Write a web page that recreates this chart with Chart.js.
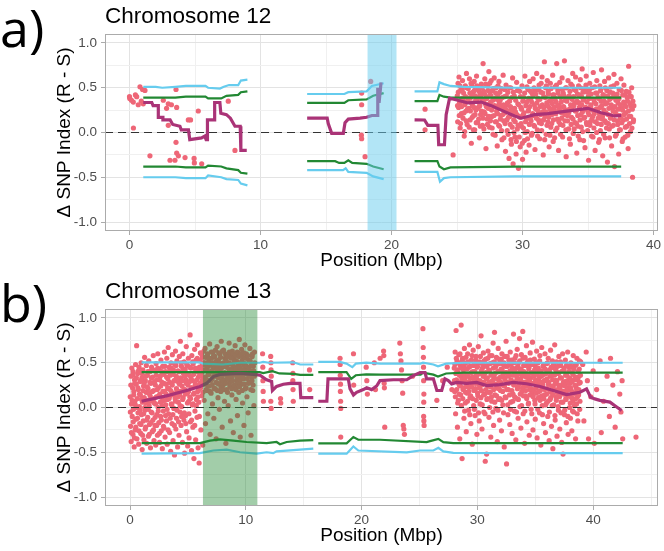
<!DOCTYPE html>
<html>
<head>
<meta charset="utf-8">
<script src="https://cdn.jsdelivr.net/npm/chart.js@4.4.1/dist/chart.umd.min.js"></script>
<style>
  body { margin: 0; background: #fff; width: 664px; height: 551px; position: relative; overflow: hidden; }
  canvas { position: absolute; left: 0; }
  #chr12 { top: 0; }
  #chr13 { top: 275px; }
</style>
</head>
<body>
<canvas id="chr12" width="664" height="276"></canvas>
<canvas id="chr13" width="664" height="276"></canvas>
<script>
/* =========================
   Delta SNP index, chromosomes 12 and 13
========================= */

// -------------------------
// Shared axis setup
// -------------------------
const Y_TICKS = [-1, -0.75, -0.5, -0.25, 0, 0.25, 0.5, 0.75, 1];
const X_TICKS_12 = [0, 5, 10, 15, 20, 25, 30, 35, 40];
const X_TICKS_13 = [0, 5, 10, 15, 20, 25, 30, 35, 40, 45];
const Y_RANGE = [-1.1, 1.1];

// -------------------------
// Chromosome 12 (panel a)
// -------------------------
const chr12Range = [-1.87, 40.34];
const chr12Region = [18.17, 20.38];

// SNPs outside the dense block, plus the spread of the block
const chr12Points = [
  [0.0,0.4],[0.02,0.38],[0.15,0.36],[0.29,0.34],[0.3,0.05],[0.45,0.42],[0.55,0.4],[0.67,0.31],[0.8,0.51],[0.9,0.35],
  [1.0,0.48],[1.05,0.32],[1.18,0.47],[1.56,-0.26],[2.58,0.36],[2.83,0.27],[2.96,0.32],[2.96,0.08],[3.09,-0.31],[3.2,0.31],
  [3.47,-0.31],[3.55,0.48],[3.55,-0.11],[3.6,0.28],[3.6,-0.23],[3.73,-0.26],[4.24,-0.28],[4.49,0.14],[4.66,0.14],[4.93,-0.29],
  [4.95,-0.34],[5.25,0.24],[5.51,-0.35],[7.54,0.35],[8.05,-0.2],
  [17.72,0.44],[17.72,0.31],[17.7,-0.03],[17.72,-0.07],[17.98,-0.27],[18.41,0.57],
  [22.56,0.26],[22.56,0.03],[24.7,-0.25],
  [25.02,0.41],[25.05,0.12],[25.08,0.55],[25.12,0.28],[25.15,0.62],[25.19,0.33],[25.24,0.05],[25.28,0.47],[25.33,0.21],[25.38,0.38],
  [25.42,0.58],[25.46,0.16],[25.5,0.44],[25.55,-0.04],[25.6,0.31],[25.63,0.52],[25.68,0.24],[25.72,0.66],[25.77,0.09],[25.82,0.36],
  [25.86,0.49],[25.9,0.27],[25.95,0.6],[26.0,0.14],[26.04,0.39],[26.09,-0.12],[26.13,0.53],[26.18,0.3],[26.22,0.45],[26.27,0.19],
  [26.31,0.57],[26.35,0.03],[26.4,0.41],[26.44,0.25],[26.49,0.63],[26.53,0.35],[26.58,0.11],[26.62,0.48],[26.67,0.29],[26.71,-0.06],
  [26.76,0.43],[26.8,0.2],[26.85,0.54],[26.9,0.37],[26.94,0.08],[26.99,0.77],[27.03,0.46],[27.07,0.23],[27.12,0.6],[27.16,0.32],
  [27.21,-0.18],[27.25,0.4],[27.3,0.15],[27.34,0.52],[27.39,0.27],[27.43,0.68],[27.48,0.06],[27.52,0.44],[27.57,0.34],[27.61,0.58],
  [27.66,0.18],[27.7,0.47],[27.75,-0.02],[27.8,0.29],[27.84,0.61],[27.89,0.38],[27.93,0.12],[27.98,0.5],[28.02,0.24],[28.07,-0.15],
  [28.11,0.42],[28.16,0.3],[28.2,0.57],[28.25,0.07],[28.29,0.36],[28.34,0.19],[28.38,0.49],[28.43,-0.08],[28.47,0.27],[28.52,0.64],
  [28.56,0.13],[28.61,0.4],[28.65,0.22],[28.7,-0.21],[28.74,0.53],[28.79,0.31],[28.83,0.02],[28.88,0.45],[28.92,0.17],[28.97,-0.29],
  [29.01,0.35],[29.06,0.09],[29.1,0.5],[29.15,-0.13],[29.19,0.26],[29.24,0.61],[29.28,-0.35],[29.33,0.14],[29.37,0.41],[29.42,-0.05],
  [29.46,0.23],[29.51,-0.24],[29.55,0.56],[29.6,0.04],[29.64,0.32],[29.69,-0.4],[29.73,0.18],[29.78,0.46],[29.82,-0.16],[29.87,0.28],
  [29.91,0.07],[29.96,0.52],[30.0,-0.3],[30.05,0.2],[30.09,0.39],[30.14,-0.09],[30.18,0.63],[30.23,0.12],[30.27,-0.22],[30.32,0.34],
  [30.36,0.01],[30.41,0.48],[30.45,0.25],[30.5,-0.14],[30.54,0.57],[30.59,0.16],[30.63,0.37],[30.68,-0.03],[30.72,0.44],[30.77,0.21],
  [30.81,0.6],[30.86,0.08],[30.9,0.31],[30.95,-0.19],[30.99,0.47],[31.04,0.26],[31.08,0.66],[31.13,0.03],[31.17,0.38],[31.22,0.14],
  [31.26,0.53],[31.31,-0.07],[31.35,0.29],[31.4,0.45],[31.44,0.1],[31.49,0.62],[31.53,0.23],[31.58,-0.25],[31.62,0.4],[31.67,0.79],
  [31.71,0.18],[31.76,0.5],[31.8,-0.02],[31.85,0.33],[31.89,0.58],[31.94,0.12],[31.98,0.43],[32.03,-0.16],[32.07,0.27],[32.12,0.55],
  [32.16,0.06],[32.21,0.36],[32.25,0.2],[32.3,0.64],[32.34,-0.1],[32.39,0.42],[32.43,0.25],[32.48,0.51],[32.52,0.02],[32.57,0.34],
  [32.61,0.77],[32.66,0.15],[32.7,0.47],[32.75,-0.2],[32.79,0.3],[32.84,0.56],[32.88,0.09],[32.93,0.39],[32.97,0.22],[33.02,0.61],
  [33.06,-0.05],[33.11,0.44],[33.15,0.28],[33.2,0.8],[33.24,0.13],[33.29,0.5],[33.33,-0.27],[33.38,0.35],[33.42,0.19],[33.47,0.58],
  [33.51,0.04],[33.56,0.41],[33.6,0.26],[33.65,-0.13],[33.69,0.54],[33.74,0.17],[33.78,0.37],[33.83,0.66],[33.87,-0.01],[33.92,0.3],
  [33.96,0.48],[34.01,0.11],[34.05,0.62],[34.1,0.24],[34.14,-0.23],[34.19,0.43],[34.23,0.07],[34.28,0.52],[34.32,0.33],[34.37,-0.08],
  [34.41,0.59],[34.46,0.2],[34.5,0.4],[34.55,0.71],[34.59,0.01],[34.64,0.36],[34.68,0.16],[34.73,0.49],[34.77,-0.17],[34.82,0.28],
  [34.86,0.63],[34.91,0.09],[34.95,0.45],[35.0,0.23],[35.04,-0.31],[35.09,0.38],[35.13,0.55],[35.18,0.12],[35.22,0.31],[35.27,-0.04],
  [35.31,0.5],[35.36,0.18],[35.4,0.67],[35.45,0.05],[35.49,0.34],[35.54,-0.2],[35.58,0.44],[35.63,0.26],[35.67,0.58],[35.72,0.1],
  [35.76,0.39],[35.81,-0.11],[35.85,0.21],[35.9,0.52],[35.94,0.02],[35.99,0.35],[36.03,0.7],[36.08,0.15],[36.12,-0.26],[36.17,0.42],
  [36.21,0.25],[36.26,0.57],[36.3,-0.06],[36.35,0.32],[36.39,0.11],[36.44,0.47],[36.48,-0.33],[36.53,0.2],[36.57,0.61],[36.62,0.04],
  [36.66,0.37],[36.71,0.16],[36.75,0.51],[36.8,-0.15],[36.84,0.28],[36.89,0.44],[36.93,0.08],[36.98,0.65],[37.02,-0.38],[37.07,0.23],
  [37.11,0.4],[37.16,-0.02],[37.2,0.55],[37.25,0.13],[37.29,0.33],[37.34,-0.24],[37.38,0.48],[37.43,0.19],[37.47,0.03],[37.52,0.6],
  [37.56,0.27],[37.61,-0.1],[37.65,0.42],[37.7,0.14],[37.74,0.53],[37.79,0.31],[37.83,-0.05],[37.88,0.22],[37.92,0.46],[37.97,0.07],
  [38.01,0.35],[38.06,-0.18],[38.1,0.74],[38.15,0.18],[38.19,0.41],[38.24,0.01],[38.28,0.29],[38.33,0.5],[38.4,-0.5],[38.45,0.12]
];

// the dense core of the 25-38 Mbp block
const chr12CorePoints = [
  [25.04,0.3],[25.1,0.45],[25.17,0.19],[25.22,0.52],[25.27,0.1],[25.35,0.29],[25.4,0.48],[25.48,0.35],[25.53,0.22],[25.58,0.01],
  [25.65,0.4],[25.7,0.13],[25.75,0.5],[25.8,0.26],[25.88,0.38],[25.93,0.06],[25.98,0.44],[26.02,0.24],[26.07,0.55],[26.11,0.33],
  [26.16,0.17],[26.2,0.41],[26.25,0.03],[26.29,0.28],[26.33,0.47],[26.38,0.2],[26.42,0.36],[26.47,0.11],[26.51,0.52],[26.56,0.27],
  [26.6,0.39],[26.65,0.15],[26.69,0.46],[26.74,0.3],[26.78,0.07],[26.83,0.42],[26.87,0.24],[26.92,0.5],[26.97,0.16],[27.01,0.35],
  [27.05,0.04],[27.1,0.43],[27.14,0.21],[27.19,0.54],[27.23,0.29],[27.28,0.38],[27.32,0.09],[27.37,0.47],[27.41,0.18],[27.46,0.32],
  [27.5,0.55],[27.55,0.13],[27.59,0.41],[27.64,0.25],[27.68,0.05],[27.73,0.36],[27.77,0.49],[27.82,0.19],[27.86,0.3],[27.91,-0.03],
  [27.95,0.44],[28.0,0.12],[28.04,0.37],[28.09,0.21],[28.13,0.52],[28.18,0.08],[28.22,0.33],[28.27,0.45],[28.31,0.15],[28.36,0.28],
  [28.4,0.02],[28.45,0.39],[28.49,0.2],[28.54,0.31],[28.58,-0.06],[28.63,0.48],[28.67,0.1],[28.72,0.26],[28.76,0.41],[28.81,0.14],
  [28.85,0.33],[28.9,-0.02],[28.94,0.24],[28.99,0.5],[29.03,0.18],[29.08,0.29],[29.12,-0.08],[29.17,0.39],[29.21,0.06],[29.26,0.22],
  [29.3,0.45],[29.35,0.0],[29.39,0.27],[29.44,0.12],[29.48,0.36],[29.53,-0.1],[29.57,0.2],[29.62,0.47],[29.66,0.08],[29.71,0.31],
  [29.75,-0.05],[29.8,0.17],[29.84,0.4],[29.89,0.1],[29.93,0.26],[29.98,-0.12],[30.02,0.35],[30.07,0.05],[30.11,0.22],[30.16,0.44],
  [30.2,0.0],[30.25,0.3],[30.29,0.15],[30.34,0.51],[30.38,-0.07],[30.43,0.24],[30.47,0.38],[30.52,0.09],[30.56,0.29],[30.61,0.46],
  [30.65,0.13],[30.7,0.34],[30.74,-0.01],[30.79,0.41],[30.83,0.19],[30.88,0.5],[30.92,0.07],[30.97,0.27],[31.01,0.43],[31.06,0.16],
  [31.1,0.33],[31.15,-0.04],[31.19,0.24],[31.24,0.48],[31.28,0.11],[31.33,0.37],[31.37,0.2],[31.42,0.55],[31.46,0.02],[31.51,0.31],
  [31.55,0.44],[31.6,0.14],[31.64,0.28],[31.69,-0.08],[31.73,0.39],[31.78,0.23],[31.82,0.52],[31.87,0.08],[31.91,0.3],[31.96,0.46],
  [32.0,0.17],[32.05,0.35],[32.09,-0.03],[32.14,0.25],[32.18,0.49],[32.23,0.1],[32.27,0.32],[32.32,0.42],[32.36,0.14],[32.41,0.28],
  [32.45,-0.06],[32.5,0.38],[32.54,0.21],[32.59,0.53],[32.63,0.05],[32.68,0.3],[32.72,0.44],[32.77,0.12],[32.81,0.26],[32.86,0.4],
  [32.9,-0.02],[32.95,0.34],[32.99,0.16],[33.04,0.48],[33.08,0.08],[33.13,0.29],[33.17,0.41],[33.22,0.2],[33.26,0.36],[33.31,0.03],
  [33.35,0.5],[33.4,0.25],[33.44,0.13],[33.49,0.39],[33.53,0.22],[33.58,-0.07],[33.62,0.46],[33.67,0.31],[33.71,0.09],[33.76,0.27],
  [33.8,0.52],[33.85,0.15],[33.89,0.4],[33.94,0.04],[33.98,0.33],[34.03,0.24],[34.07,0.47],[34.12,0.1],[34.16,0.35],[34.21,0.19],
  [34.25,-0.04],[34.3,0.42],[34.34,0.28],[34.39,0.14],[34.43,0.5],[34.48,0.06],[34.52,0.31],[34.57,0.23],[34.61,0.45],[34.66,-0.09],
  [34.7,0.37],[34.75,0.17],[34.79,0.26],[34.84,0.53],[34.88,0.11],[34.93,0.34],[34.97,0.02],[35.02,0.4],[35.06,0.2],[35.11,0.48],
  [35.15,0.08],[35.2,0.29],[35.24,0.43],[35.29,0.15],[35.33,0.25],[35.38,-0.05],[35.42,0.37],[35.47,0.21],[35.51,0.51],[35.56,0.12],
  [35.6,0.32],[35.65,0.0],[35.69,0.44],[35.74,0.26],[35.78,0.16],[35.83,0.38],[35.87,-0.08],[35.92,0.28],[35.96,0.47],[36.01,0.09],
  [36.05,0.3],[36.1,0.18],[36.14,0.42],[36.19,-0.02],[36.23,0.35],[36.28,0.13],[36.32,0.5],[36.37,0.22],[36.41,0.05],[36.46,0.33],
  [36.5,0.41],[36.55,0.1],[36.59,0.27],[36.64,-0.06],[36.68,0.45],[36.73,0.19],[36.77,0.31],[36.82,0.07],[36.86,0.39],[36.91,0.24],
  [36.95,0.52],[37.0,0.14],[37.04,0.29],[37.09,-0.04],[37.13,0.36],[37.18,0.2],[37.22,0.43],[37.27,0.09],[37.31,0.26],[37.36,0.38],
  [37.4,0.03],[37.45,0.31],[37.49,0.16],[37.54,0.47],[37.58,0.11],[37.63,0.25],[37.67,-0.07],[37.72,0.34],[37.76,0.2],[37.81,0.42],
  [37.85,0.06],[37.9,0.29],[37.94,0.15],[37.99,0.39],[38.03,-0.03],[38.08,0.24],[38.12,0.45],[38.17,0.1],[38.21,0.32],[38.26,0.18],
  [38.3,0.4],[38.35,0.05],[38.38,0.26],[38.42,0.35],[38.47,0.14],[38.5,0.3]
];

// tricube-smoothed delta SNP index, null = no SNPs
const chr12Smooth = [
  [1.05,0.335],[1.7,0.335],[1.8,0.3],[2.2,0.3],[2.2,0.17],[2.55,0.17],[2.55,0.14],[3.1,0.14],[3.3,0.09],[3.85,0.07],
  [3.95,0.03],[4.5,0.03],[4.6,-0.08],[5.5,-0.06],[5.75,-0.04],[5.85,-0.08],[5.95,-0.08],[5.95,0.14],[6.45,0.14],[6.5,0.335],
  [6.9,0.335],[6.97,0.215],[7.4,0.2],[7.7,0.16],[8.05,0.07],[8.45,0.07],[8.5,-0.2],[8.95,-0.2],[11,null],
  [13.56,0.16],[15.09,0.16],[15.17,0.1],[15.43,-0.01],[16.32,-0.01],[16.45,0.11],[16.7,0.15],[17.6,0.16],[18.1,0.17],[18.5,0.19],
  [18.9,0.19],[18.95,0.5],[19.05,0.33],[19.2,0.56],[20.5,null],
  [21.76,0.142],[22.52,0.14],[22.77,0.08],[23.54,0.08],[23.6,-0.137],[24.04,-0.137],[24.17,0.2],[24.43,0.384],[25.06,0.36],[25.83,0.33],
  [26.84,0.34],[27.61,0.3],[28.37,0.25],[29.39,0.185],[29.9,0.16],[30.92,0.2],[31.93,0.21],[32.95,0.23],[33.97,0.25],[34.99,0.27],
  [36.0,0.22],[37.02,0.185],[37.53,0.19]
];

const chr12Ci99Hi = [
  [1.05,0.51],[2.0,0.51],[2.5,0.5],[3.5,0.51],[4.3,0.52],[5.8,0.52],[6.0,0.5],[6.9,0.49],[7.2,0.51],[7.6,0.53],
  [8.3,0.53],[8.5,0.58],[9.0,0.59],[11,null],
  [13.56,0.43],[16.4,0.43],[16.7,0.45],[18.1,0.46],[18.5,0.52],[19.4,0.55],[20.5,null],
  [21.76,0.46],[23.5,0.46],[23.66,0.56],[24.0,0.54],[24.5,0.52],[25.5,0.51],[29.4,0.5],[37.53,0.5]
];
const chr12Ci95Hi = [
  [1.05,0.39],[3.5,0.39],[4.3,0.4],[5.8,0.4],[6.0,0.38],[7.0,0.38],[7.4,0.41],[8.3,0.42],[8.5,0.45],[9.0,0.46],[11,null],
  [13.56,0.33],[16.4,0.33],[16.7,0.36],[18.1,0.37],[18.6,0.41],[19.4,0.44],[20.5,null],
  [21.76,0.35],[23.5,0.35],[23.66,0.42],[24.0,0.4],[24.5,0.39],[37.53,0.39]
];
const chr12Ci95Lo = [
  [1.05,-0.38],[3.5,-0.38],[4.3,-0.39],[5.8,-0.39],[6.0,-0.37],[7.0,-0.38],[7.4,-0.4],[8.3,-0.42],[8.5,-0.45],[9.0,-0.46],[11,null],
  [13.56,-0.32],[15.7,-0.32],[16.0,-0.34],[16.4,-0.34],[16.7,-0.31],[17.0,-0.34],[18.1,-0.35],[18.6,-0.38],[19.4,-0.41],[20.5,null],
  [21.76,-0.32],[23.5,-0.32],[23.66,-0.38],[24.0,-0.41],[24.5,-0.39],[29.4,-0.38],[37.53,-0.38]
];
const chr12Ci99Lo = [
  [1.05,-0.5],[3.5,-0.5],[4.3,-0.51],[5.8,-0.51],[6.0,-0.48],[7.0,-0.5],[7.4,-0.52],[8.3,-0.53],[8.5,-0.57],[9.0,-0.59],[11,null],
  [13.56,-0.42],[16.3,-0.42],[16.5,-0.4],[16.7,-0.44],[18.1,-0.45],[18.6,-0.49],[19.4,-0.52],[20.5,null],
  [21.76,-0.44],[23.5,-0.44],[23.7,-0.55],[24.0,-0.51],[24.5,-0.5],[29.4,-0.49],[37.53,-0.49]
];

// -------------------------
// Chromosome 13 (panel b)
// -------------------------
const chr13Range = [-2.16, 45.6];
const chr13Region = [6.3, 11.0];

const chr13Points = [
  [0.02,0.12],[0.05,-0.21],[0.08,0.35],[0.1,-0.38],[0.13,0.04],[0.16,0.44],[0.19,-0.1],[0.22,0.22],[0.25,-0.3],[0.27,0.4],
  [0.3,-0.02],[0.33,0.18],[0.36,-0.44],[0.39,0.31],[0.42,0.07],[0.45,-0.25],[0.48,0.48],[0.51,-0.13],[0.54,0.26],[0.57,0.69],
  [0.6,-0.35],[0.63,0.1],[0.66,0.38],[0.69,-0.06],[0.72,0.2],[0.75,-0.41],[0.78,0.45],[0.81,0.01],[0.84,-0.18],[0.87,0.29],
  [0.9,0.14],[0.93,-0.29],[0.96,0.5],[0.99,-0.08],[1.02,0.33],[1.05,-0.47],[1.08,0.06],[1.11,0.42],[1.14,-0.15],[1.17,0.24],
  [1.2,-0.36],[1.23,0.11],[1.26,0.56],[1.29,-0.03],[1.32,0.3],[1.35,-0.22],[1.38,0.17],[1.41,0.47],[1.44,-0.4],[1.47,0.08],
  [1.5,0.36],[1.53,-0.11],[1.56,0.21],[1.59,-0.32],[1.62,0.52],[1.65,0.02],[1.68,-0.19],[1.71,0.4],[1.74,0.13],[1.77,-0.45],
  [1.8,0.27],[1.83,-0.05],[1.86,0.45],[1.89,0.09],[1.92,-0.27],[1.95,0.34],[1.98,-0.14],[2.01,0.58],[2.04,0.19],[2.07,-0.37],
  [2.1,0.05],[2.13,0.41],[2.16,-0.2],[2.19,0.25],[2.22,-0.42],[2.25,0.49],[2.28,0.12],[2.31,-0.08],[2.34,0.31],[2.37,-0.31],
  [2.4,0.6],[2.43,0.0],[2.46,0.22],[2.49,-0.17],[2.52,0.43],[2.55,-0.39],[2.58,0.15],[2.61,0.35],[2.64,-0.1],[2.67,0.53],
  [2.7,-0.26],[2.73,0.07],[2.76,0.28],[2.79,-0.46],[2.82,0.46],[2.85,0.11],[2.88,-0.04],[2.91,0.37],[2.94,-0.23],[2.97,0.62],
  [3.0,0.18],[3.03,-0.33],[3.06,0.4],[3.09,0.03],[3.12,0.26],[3.15,-0.15],[3.18,0.55],[3.21,-0.41],[3.24,0.09],[3.27,0.32],
  [3.3,0.67],[3.33,-0.07],[3.36,0.21],[3.39,0.45],[3.42,-0.28],[3.45,0.13],[3.48,0.36],[3.51,-0.49],[3.54,0.5],[3.57,0.04],
  [3.6,0.27],[3.63,-0.18],[3.66,0.59],[3.69,0.16],[3.72,-0.37],[3.75,0.42],[3.78,-0.01],[3.81,0.3],[3.84,-0.53],[3.87,0.48],
  [3.9,0.1],[3.93,0.63],[3.96,-0.24],[3.99,0.35],[4.02,-0.12],[4.05,0.52],[4.08,0.19],[4.11,-0.44],[4.14,0.41],[4.17,0.06],
  [4.2,0.28],[4.23,-0.31],[4.26,0.57],[4.29,0.14],[4.32,-0.05],[4.35,0.74],[4.38,0.33],[4.41,-0.2],[4.44,0.46],[4.47,0.01],
  [4.5,0.24],[4.53,-0.39],[4.56,0.6],[4.59,0.11],[4.62,0.38],[4.65,-0.14],[4.68,0.51],[4.71,-0.51],[4.74,0.2],[4.77,0.43],
  [4.8,-0.09],[4.83,0.31],[4.86,0.68],[4.89,-0.27],[4.92,0.16],[4.95,0.47],[4.98,-0.43],[5.01,0.25],[5.04,0.55],[5.07,0.07],
  [5.1,-0.34],[5.13,0.36],[5.16,0.12],[5.19,0.81],[5.22,-0.16],[5.25,0.44],[5.28,0.22],[5.31,-0.48],[5.34,0.58],[5.37,0.03],
  [5.4,0.3],[5.43,-0.22],[5.46,0.49],[5.49,0.15],[5.52,-0.57],[5.55,0.39],[5.58,0.65],[5.61,-0.04],[5.64,0.26],[5.67,-0.36],
  [5.7,0.53],[5.73,0.09],[5.76,0.42],[5.79,-0.11],[5.82,0.7],[5.85,0.18],[5.88,-0.45],[5.91,0.34],[5.94,0.06],[5.97,-0.62],
  [6.0,0.45],[6.04,0.27],[6.08,0.61],[6.12,-0.25],[6.16,0.38],[6.2,0.13],[6.24,0.56],[6.28,-0.42],[6.32,0.33],[6.36,0.5],
  [6.4,0.08],[6.44,0.42],[6.48,0.66],[6.52,-0.18],[6.56,0.29],[6.6,0.47],[6.64,0.19],[6.68,0.58],[6.72,-0.07],[6.76,0.37],
  [6.8,0.52],[6.84,0.24],[6.88,0.71],[6.92,-0.3],[6.96,0.4],[7.0,0.16],[7.04,0.55],[7.08,0.32],[7.12,0.04],[7.16,0.62],
  [7.2,0.44],[7.24,-0.12],[7.28,0.35],[7.32,0.57],[7.36,0.21],[7.4,0.48],[7.44,-0.35],[7.48,0.39],[7.52,0.68],[7.56,0.27],
  [7.6,0.11],[7.64,0.53],[7.68,0.36],[7.72,-0.02],[7.76,0.6],[7.8,0.43],[7.84,0.18],[7.88,0.74],[7.92,0.3],[7.96,-0.22],
  [8.0,0.49],[8.04,0.25],[8.08,0.64],[8.12,0.38],[8.16,0.07],[8.2,0.55],[8.24,0.31],[8.28,-0.4],[8.32,0.46],[8.36,0.2],
  [8.4,0.59],[8.44,0.35],[8.48,0.02],[8.52,0.5],[8.56,0.72],[8.6,0.28],[8.64,0.41],[8.68,-0.15],[8.72,0.57],[8.76,0.33],
  [8.8,0.14],[8.84,0.63],[8.88,0.45],[8.92,-0.28],[8.96,0.37],[9.0,0.54],[9.04,0.23],[9.08,0.69],[9.12,0.4],[9.16,0.09],
  [9.2,0.52],[9.24,0.3],[9.28,-0.09],[9.32,0.61],[9.36,0.44],[9.4,0.17],[9.44,0.76],[9.48,0.35],[9.52,-0.33],[9.56,0.5],
  [9.6,0.26],[9.64,0.65],[9.68,0.39],[9.72,0.05],[9.76,0.56],[9.8,0.32],[9.84,-0.2],[9.88,0.47],[9.92,0.7],[9.96,0.21],
  [10.0,0.43],[10.05,0.6],[10.1,0.12],[10.15,0.37],[10.2,-0.06],[10.25,0.53],[10.3,0.28],[10.35,0.66],[10.4,0.41],[10.45,-0.31],
  [10.5,0.34],[10.55,0.57],[10.6,0.19],[10.65,0.46],[10.7,0.02],[10.75,0.62],[10.8,0.38],
  [11.45,0.6],[11.47,0.45],[11.48,0.3],[11.5,0.18],[11.52,0.07],[12.15,0.57],[12.17,0.5],[12.18,0.42],[12.2,0.35],[12.16,0.07],
  [12.19,-0.01],[13.0,0.1],[13.02,0.05],[14.05,0.5],[14.07,0.38],[14.06,0.3],[14.08,0.2],[14.1,0.07],[15.5,0.42],[15.52,0.2],
  [18.14,0.55],[18.15,0.48],[18.16,0.36],[18.18,0.26],[18.17,0.18],[18.19,0.07],[18.2,-0.01],[18.2,-0.33],[19.3,0.6],[19.32,0.25],
  [20.4,0.45],[20.45,0.3],[20.5,0.15],[21.1,0.5],[21.2,0.2],[21.6,0.55],[21.9,0.63],[21.92,0.58],[21.95,0.27],[21.97,0.22],
  [22.0,-0.22],[23.3,0.72],[23.35,0.6],[23.4,0.52],[23.45,0.42],[23.5,0.3],[23.55,0.16],[23.6,-0.2],[23.65,-0.24],[23.7,-0.3],
  [24.4,0.35],[25.3,0.88],[25.32,0.67],[25.34,0.56],[25.35,0.45],[25.36,0.3],[25.38,0.15],[25.37,0.06],[25.36,-0.1],[25.38,-0.15],
  [25.4,-0.2],[26.5,0.08],[27.0,0.3],[27.4,0.45],[27.8,0.2],
  [28.0,0.44],[28.04,0.18],[28.08,0.62],[28.12,-0.07],[28.16,0.86],[28.2,0.31],[28.24,0.52],[28.28,-0.22],[28.32,0.39],[28.36,0.08],
  [28.4,0.59],[28.44,0.25],[28.48,-0.35],[28.52,0.47],[28.56,0.14],[28.6,0.92],[28.64,0.34],[28.68,-0.57],[28.72,0.55],[28.76,0.2],
  [28.8,0.42],[28.84,-0.12],[28.88,0.66],[28.92,0.29],[28.96,0.05],[29.0,0.5],[29.04,-0.27],[29.08,0.37],[29.12,0.16],[29.16,0.6],
  [29.2,0.23],[29.24,-0.03],[29.28,0.45],[29.32,0.7],[29.36,0.11],[29.4,0.33],[29.44,-0.18],[29.48,0.53],[29.52,0.27],[29.56,-0.41],
  [29.6,0.4],[29.64,0.64],[29.68,0.02],[29.72,0.3],[29.76,0.49],[29.8,-0.09],[29.84,0.21],[29.88,0.57],[29.92,0.36],[29.96,-0.3],
  [30.0,0.46],[30.04,0.13],[30.08,0.68],[30.12,0.26],[30.16,-0.15],[30.2,0.51],[30.24,0.04],[30.28,0.38],[30.32,0.8],[30.36,0.19],
  [30.4,-0.24],[30.44,0.44],[30.48,0.28],[30.52,0.61],[30.56,-0.05],[30.6,0.35],[30.64,0.15],[30.68,-0.6],[30.72,0.54],[30.76,0.32],
  [30.8,-0.52],[30.84,0.47],[30.88,0.1],[30.92,0.63],[30.96,0.24],[31.0,-0.11],[31.04,0.41],[31.08,0.58],[31.12,0.17],[31.16,-0.33],
  [31.2,0.37],[31.24,0.07],[31.28,0.5],[31.32,0.27],[31.36,0.72],[31.4,-0.2],[31.44,0.33],[31.48,0.84],[31.52,0.14],[31.56,0.45],
  [31.6,-0.01],[31.64,0.56],[31.68,0.22],[31.72,-0.38],[31.76,0.4],[31.8,0.66],[31.84,0.09],[31.88,0.3],[31.92,-0.14],[31.96,0.52],
  [32.0,0.19],[32.04,0.43],[32.08,-0.26],[32.12,0.6],[32.16,0.25],[32.2,0.03],[32.24,0.48],[32.28,0.34],[32.32,-0.44],[32.36,0.57],
  [32.4,0.12],[32.44,0.39],[32.48,0.74],[32.52,-0.63],[32.56,0.28],[32.6,0.46],[32.64,-0.08],[32.68,0.2],[32.72,0.53],[32.76,0.36],
  [32.8,-0.19],[32.84,0.62],[32.88,0.06],[32.92,0.31],[32.96,0.49],[33.0,-0.29],[33.04,0.41],[33.08,0.15],[33.12,0.82],[33.16,0.26],
  [33.2,-0.04],[33.24,0.55],[33.28,0.37],[33.32,-0.36],[33.36,0.44],[33.4,0.1],[33.44,0.65],[33.48,0.23],[33.52,-0.12],[33.56,0.5],
  [33.6,0.32],[33.64,0.77],[33.68,0.01],[33.72,0.42],[33.76,-0.23],[33.8,0.59],[33.84,0.18],[33.88,0.35],[33.92,0.85],[33.96,-0.07],
  [34.0,0.47],[34.04,0.24],[34.08,-0.4],[34.12,0.56],[34.16,0.13],[34.2,0.38],[34.24,0.69],[34.28,-0.16],[34.32,0.29],[34.36,0.52],
  [34.4,0.04],[34.44,0.43],[34.48,-0.31],[34.52,0.2],[34.56,0.61],[34.6,0.33],[34.64,-0.02],[34.68,0.48],[34.72,0.16],[34.76,0.73],
  [34.8,-0.25],[34.84,0.39],[34.88,0.27],[34.92,0.54],[34.96,0.08],[35.0,-0.13],[35.04,0.45],[35.08,0.22],[35.12,0.63],[35.16,-0.34],
  [35.2,0.3],[35.24,0.5],[35.28,0.11],[35.32,0.4],[35.36,-0.06],[35.4,0.58],[35.44,0.19],[35.48,-0.42],[35.52,0.35],[35.56,0.67],
  [35.6,0.02],[35.64,0.26],[35.68,0.46],[35.72,-0.18],[35.76,0.37],[35.8,0.14],[35.84,0.6],[35.88,-0.28],[35.92,0.31],[35.96,0.05],
  [36.0,0.49],[36.04,0.21],[36.08,-0.1],[36.12,0.55],[36.16,0.28],[36.2,-0.37],[36.24,0.42],[36.28,0.09],[36.32,0.64],[36.36,0.17],
  [36.4,-0.21],[36.44,0.36],[36.48,0.52],[36.52,-0.46],[36.56,0.24],[36.6,0.03],[36.64,0.44],[36.68,0.7],[36.72,-0.14],[36.76,0.3],
  [36.8,0.12],[36.84,0.51],[36.88,-0.32],[36.92,0.2],[36.96,0.38],[37.0,-0.03],[37.04,0.57],[37.08,0.15],[37.12,-0.24],[37.16,0.33],
  [37.2,0.47],[37.24,0.06],[37.28,-0.39],[37.32,0.25],[37.36,0.6],[37.4,-0.52],[37.44,0.18],[37.48,0.41],[37.52,-0.08],[37.56,0.29],
  [37.6,0.53],[37.64,0.1],[37.68,-0.17],[37.72,0.36],[37.76,0.22],[37.8,0.62],[37.84,-0.3],[37.88,0.13],[37.92,0.45],[37.96,0.0],
  [38.0,0.27],[38.04,-0.12],[38.08,0.5],[38.12,0.19],[38.16,-0.26],[38.2,0.39],[38.24,0.07],[38.28,0.58],[38.32,-0.05],[38.36,0.31],
  [38.4,0.16],[38.44,0.47],[38.48,-0.35],[38.52,0.23],[38.56,0.04],[38.6,0.55],[38.64,0.12],[38.68,-0.15],[38.72,0.34],[38.76,0.2],
  [38.8,0.43],[38.84,-0.02],[38.88,0.28],[38.92,0.51],
  [39.1,0.48],[39.2,-0.15],[39.4,0.62],[39.5,0.3],[39.6,-0.35],[39.8,0.12],[40.0,0.41],[40.1,-0.4],[40.3,0.2],[40.6,0.52],
  [40.7,-0.28],[40.9,0.07],[41.2,0.35],[41.4,-0.1],[41.5,0.55],[41.7,0.25],[41.9,-0.22],[42.1,0.4],[42.3,0.15],[42.4,-0.05],
  [42.5,0.3],[42.55,-0.35],[43.7,-0.33]
];

// dense cores: 0-11 Mbp and 28-39 Mbp
const chr13CorePoints = [
  [0.03,-0.05],[0.07,0.25],[0.12,-0.28],[0.18,0.08],[0.23,0.36],[0.28,-0.16],[0.32,0.14],[0.37,-0.34],[0.41,0.27],[0.46,0.03],
  [0.5,-0.22],[0.55,0.33],[0.59,0.0],[0.64,-0.12],[0.68,0.22],[0.73,0.41],[0.77,-0.26],[0.82,0.15],[0.86,-0.03],[0.91,0.3],
  [0.95,-0.19],[1.0,0.09],[1.04,0.38],[1.09,-0.31],[1.13,0.19],[1.18,-0.07],[1.22,0.27],[1.27,0.0],[1.31,-0.24],[1.36,0.35],
  [1.4,0.05],[1.45,-0.14],[1.49,0.23],[1.54,0.4],[1.58,-0.02],[1.63,0.16],[1.67,-0.3],[1.72,0.28],[1.76,0.07],[1.81,-0.17],
  [1.85,0.33],[1.9,-0.06],[1.94,0.18],[1.99,0.42],[2.03,-0.25],[2.08,0.1],[2.12,0.29],[2.17,-0.11],[2.21,0.04],[2.26,0.36],
  [2.3,-0.2],[2.35,0.2],[2.39,0.44],[2.44,-0.04],[2.48,0.13],[2.53,-0.29],[2.57,0.31],[2.62,0.06],[2.66,0.24],[2.71,-0.14],
  [2.75,0.4],[2.8,0.02],[2.84,0.18],[2.89,-0.21],[2.93,0.27],[2.98,0.08],[3.02,0.46],[3.07,-0.09],[3.11,0.15],[3.16,0.34],
  [3.2,-0.02],[3.25,0.22],[3.29,-0.25],[3.34,0.4],[3.38,0.1],[3.43,0.28],[3.47,-0.12],[3.52,0.19],[3.56,0.44],[3.61,0.03],
  [3.65,0.25],[3.7,-0.08],[3.74,0.37],[3.79,0.14],[3.83,-0.2],[3.88,0.3],[3.92,0.07],[3.97,0.47],[4.01,0.21],[4.06,-0.03],
  [4.1,0.33],[4.15,0.12],[4.19,-0.16],[4.24,0.4],[4.28,0.26],[4.33,0.02],[4.37,0.18],[4.42,0.5],[4.46,-0.1],[4.51,0.3],
  [4.55,0.09],[4.6,0.43],[4.64,0.2],[4.69,-0.06],[4.73,0.35],[4.78,0.15],[4.82,-0.18],[4.87,0.27],[4.91,0.48],[4.96,0.05],
  [5.0,0.38],[5.05,0.18],[5.09,-0.07],[5.14,0.29],[5.18,0.45],[5.23,0.1],[5.27,0.33],[5.32,-0.14],[5.36,0.22],[5.41,0.51],
  [5.45,0.04],[5.5,0.37],[5.54,0.16],[5.59,-0.2],[5.63,0.44],[5.68,0.25],[5.72,0.02],[5.77,0.31],[5.81,0.55],[5.86,0.12],
  [5.9,0.4],[5.95,0.2],[5.99,-0.1],
  [6.02,0.36],[6.06,0.52],[6.1,0.22],[6.14,0.44],[6.18,0.6],[6.22,0.3],[6.26,0.48],[6.3,0.17],[6.34,0.41],[6.38,0.63],
  [6.42,0.26],[6.46,0.5],[6.5,0.34],[6.54,0.56],[6.58,0.2],[6.62,0.43],[6.66,0.31],[6.7,0.6],[6.74,0.24],[6.78,0.46],
  [6.82,0.37],[6.86,0.55],[6.9,0.18],[6.94,0.48],[6.98,0.3],[7.02,0.62],[7.06,0.41],[7.1,0.25],[7.14,0.5],[7.18,0.34],
  [7.22,0.58],[7.26,0.21],[7.3,0.45],[7.34,0.38],[7.38,0.64],[7.42,0.28],[7.46,0.52],[7.5,0.42],[7.54,0.19],[7.58,0.47],
  [7.62,0.33],[7.66,0.61],[7.7,0.26],[7.74,0.49],[7.78,0.4],[7.82,0.56],[7.86,0.22],[7.9,0.44],[7.94,0.35],[7.98,0.63],
  [8.02,0.3],[8.06,0.5],[8.1,0.2],[8.14,0.46],[8.18,0.39],[8.22,0.6],[8.26,0.27],[8.3,0.53],[8.34,0.36],[8.38,0.45],
  [8.42,0.17],[8.46,0.57],[8.5,0.32],[8.54,0.43],[8.58,0.62],[8.62,0.24],[8.66,0.49],[8.7,0.37],[8.74,0.55],[8.78,0.21],
  [8.82,0.42],[8.86,0.3],[8.9,0.6],[8.94,0.46],[8.98,0.25],[9.02,0.51],[9.06,0.38],[9.1,0.58],[9.14,0.2],[9.18,0.44],
  [9.22,0.34],[9.26,0.62],[9.3,0.27],[9.34,0.48],[9.38,0.4],[9.42,0.57],[9.46,0.23],[9.5,0.45],[9.54,0.31],[9.58,0.6],
  [9.62,0.37],[9.66,0.52],[9.7,0.19],[9.74,0.42],[9.78,0.33],[9.82,0.61],[9.86,0.26],[9.9,0.49],[9.94,0.38],[9.98,0.55],
  [10.03,0.22],[10.08,0.46],[10.13,0.32],[10.18,0.58],[10.23,0.27],[10.28,0.44],[10.33,0.36],[10.38,0.52],[10.43,0.2],[10.48,0.47],
  [10.53,0.3],[10.58,0.6],[10.63,0.25],[10.68,0.41],[10.73,0.35],[10.78,0.5],
  [28.02,0.3],[28.06,0.48],[28.1,0.12],[28.14,0.38],[28.18,0.55],[28.22,0.2],[28.26,0.42],[28.3,0.05],[28.34,0.28],[28.38,0.5],
  [28.42,0.15],[28.46,0.36],[28.5,0.6],[28.54,0.24],[28.58,0.44],[28.62,0.02],[28.66,0.31],[28.7,0.52],[28.74,0.1],[28.78,0.37],
  [28.82,0.22],[28.86,0.47],[28.9,-0.04],[28.94,0.33],[28.98,0.17],[29.02,0.56],[29.06,0.26],[29.1,0.43],[29.14,0.07],[29.18,0.35],
  [29.22,0.51],[29.26,0.18],[29.3,0.29],[29.34,-0.08],[29.38,0.46],[29.42,0.13],[29.46,0.39],[29.5,0.23],[29.54,0.58],[29.58,0.1],
  [29.62,0.34],[29.66,0.47],[29.7,0.19],[29.74,-0.02],[29.78,0.4],[29.82,0.27],[29.86,0.53],[29.9,0.08],[29.94,0.32],[29.98,0.45],
  [30.02,0.16],[30.06,0.37],[30.1,-0.06],[30.14,0.5],[30.18,0.22],[30.22,0.3],[30.26,0.57],[30.3,0.11],[30.34,0.41],[30.38,0.25],
  [30.42,0.03],[30.46,0.48],[30.5,0.35],[30.54,0.14],[30.58,0.52],[30.62,0.27],[30.66,-0.07],[30.7,0.39],[30.74,0.2],[30.78,0.46],
  [30.82,0.09],[30.86,0.33],[30.9,0.55],[30.94,0.17],[30.98,0.42],[31.02,0.28],[31.06,0.0],[31.1,0.49],[31.14,0.23],[31.18,0.36],
  [31.22,0.12],[31.26,0.58],[31.3,0.3],[31.34,-0.05],[31.38,0.44],[31.42,0.2],[31.46,0.51],[31.5,0.06],[31.54,0.38],[31.58,0.26],
  [31.62,0.47],[31.66,0.13],[31.7,0.32],[31.74,0.55],[31.78,-0.03],[31.82,0.4],[31.86,0.21],[31.9,0.49],[31.94,0.1],[31.98,0.34],
  [32.02,0.28],[32.06,0.54],[32.1,0.08],[32.14,0.42],[32.18,0.18],[32.22,0.37],[32.26,-0.06],[32.3,0.5],[32.34,0.24],[32.38,0.31],
  [32.42,0.46],[32.46,0.11],[32.5,0.39],[32.54,0.2],[32.58,0.57],[32.62,0.03],[32.66,0.35],[32.7,0.27],[32.74,0.48],[32.78,0.14],
  [32.82,0.41],[32.86,-0.02],[32.9,0.3],[32.94,0.53],[32.98,0.19],[33.02,0.44],[33.06,0.07],[33.1,0.36],[33.14,0.25],[33.18,0.5],
  [33.22,0.12],[33.26,0.4],[33.3,0.29],[33.34,0.58],[33.38,-0.05],[33.42,0.33],[33.46,0.21],[33.5,0.46],[33.54,0.09],[33.58,0.38],
  [33.62,0.26],[33.66,0.52],[33.7,0.15],[33.74,0.31],[33.78,0.43],[33.82,0.02],[33.86,0.37],[33.9,0.22],[33.94,0.55],[33.98,0.13],
  [34.02,0.4],[34.06,0.28],[34.1,-0.04],[34.14,0.47],[34.18,0.19],[34.22,0.34],[34.26,0.1],[34.3,0.5],[34.34,0.24],[34.38,0.36],
  [34.42,0.05],[34.46,0.45],[34.5,0.3],[34.54,0.14],[34.58,0.53],[34.62,0.21],[34.66,0.39],[34.7,-0.07],[34.74,0.27],[34.78,0.48],
  [34.82,0.12],[34.86,0.35],[34.9,0.2],[34.94,0.42],[34.98,0.04],[35.02,0.31],[35.06,0.5],[35.1,0.16],[35.14,0.37],[35.18,0.25],
  [35.22,-0.02],[35.26,0.44],[35.3,0.18],[35.34,0.33],[35.38,0.52],[35.42,0.08],[35.46,0.28],[35.5,0.41],[35.54,0.13],[35.58,0.36],
  [35.62,-0.08],[35.66,0.23],[35.7,0.47],[35.74,0.1],[35.78,0.3],[35.82,0.2],[35.86,0.43],[35.9,0.03],[35.94,0.38],[35.98,0.15],
  [36.02,0.32],[36.06,0.5],[36.1,0.07],[36.14,0.26],[36.18,0.4],[36.22,-0.05],[36.26,0.19],[36.3,0.35],[36.34,0.11],[36.38,0.45],
  [36.42,0.24],[36.46,0.02],[36.5,0.31],[36.54,0.14],[36.58,0.48],[36.62,0.2],[36.66,0.36],[36.7,-0.09],[36.74,0.27],[36.78,0.42],
  [36.82,0.08],[36.86,0.3],[36.9,0.17],[36.94,0.46],[36.98,0.01],[37.02,0.25],[37.06,0.39],[37.1,0.12],[37.14,0.22],[37.18,0.51],
  [37.22,-0.06],[37.26,0.33],[37.3,0.18],[37.34,0.41],[37.38,0.06],[37.42,0.28],[37.46,0.15],[37.5,0.44],[37.54,-0.03],[37.58,0.24],
  [37.62,0.36],[37.66,0.09],[37.7,0.47],[37.74,0.19],[37.78,0.3],[37.82,-0.1],[37.86,0.27],[37.9,0.4],[37.94,0.13],[37.98,0.33],
  [38.02,0.05],[38.06,0.22],[38.1,0.45],[38.14,0.11],[38.18,0.29],[38.22,-0.04],[38.26,0.37],[38.3,0.16],[38.34,0.43],[38.38,0.02],
  [38.42,0.25],[38.46,0.34],[38.5,0.1],[38.54,0.48],[38.58,0.2],[38.62,-0.07],[38.66,0.31],[38.7,0.4],[38.74,0.14],[38.78,0.27],
  [38.82,0.52],[38.86,0.07],[38.9,0.36]
];

const chr13Smooth = [
  [1.0,0.07],[3.16,0.13],[4.89,0.19],[6.04,0.235],[6.62,0.27],[7.2,0.345],[7.77,0.37],[9.5,0.38],[10.65,0.37],[11.23,0.36],
  [11.8,0.31],[12.23,0.29],[12.3,0.19],[12.66,0.235],[13.24,0.26],[13.82,0.27],[14.68,0.27],[14.75,0.11],[15.83,0.11],[16.05,null],
  [16.26,0.07],[17.0,0.07],[17.1,0.32],[18.85,0.32],[19.0,0.21],[19.3,0.14],[19.57,0.17],[20.15,0.2],[20.44,0.22],[20.87,0.2],
  [21.3,0.24],[21.59,0.3],[22.74,0.31],[23.9,0.31],[24.47,0.356],[25.05,0.39],[25.48,0.39],[25.62,0.32],[26.2,0.32],[26.5,0.19],
  [26.92,0.19],[27.2,0.32],[27.49,0.3],[27.78,0.264],[28.21,0.28],[29.07,0.27],[29.94,0.28],[30.8,0.245],[31.95,0.255],[33.1,0.28],
  [34.26,0.265],[35.41,0.235],[36.56,0.19],[37.71,0.145],[38.86,0.17],[39.43,0.208],[39.78,0.115],[40.15,0.096],[40.58,0.08],[41.45,0.06],
  [41.88,0.02],[42.46,-0.034]
];

const chr13Ci99Hi = [
  [1.0,0.505],[6.0,0.505],[6.3,0.49],[8.0,0.48],[9.5,0.5],[11.2,0.5],[11.5,0.51],[12.0,0.5],[14.1,0.505],[14.7,0.48],
  [15.83,0.48],[16.05,null],
  [16.26,0.51],[18.1,0.51],[18.7,0.49],[19.2,0.45],[19.5,0.49],[20.4,0.5],[21.6,0.49],[25.1,0.49],[25.3,0.5],[26.2,0.48],
  [26.6,0.46],[27.3,0.49],[28.8,0.5],[42.55,0.5]
];
const chr13Ci95Hi = [
  [1.0,0.394],[11.2,0.394],[11.5,0.385],[12.3,0.405],[12.9,0.38],[14.1,0.375],[14.7,0.365],[15.83,0.365],[16.05,null],
  [16.26,0.394],[18.7,0.394],[19.1,0.32],[19.5,0.36],[20.4,0.37],[21.6,0.367],[25.1,0.367],[25.3,0.39],[26.2,0.367],[26.6,0.345],
  [27.3,0.38],[28.8,0.39],[42.55,0.39]
];
const chr13Ci95Lo = [
  [1.0,-0.398],[6.04,-0.398],[6.91,-0.37],[7.77,-0.355],[8.92,-0.37],[10.07,-0.385],[11.8,-0.398],[12.66,-0.385],[12.95,-0.41],[13.53,-0.385],
  [14.68,-0.37],[15.83,-0.365],[16.05,null],
  [16.26,-0.4],[18.71,-0.4],[19.29,-0.33],[19.72,-0.36],[21.59,-0.36],[25.62,-0.386],[25.91,-0.375],[26.63,-0.35],[27.06,-0.386],[27.92,-0.397],
  [42.55,-0.397]
];
const chr13Ci99Lo = [
  [1.0,-0.516],[6.04,-0.51],[7.2,-0.48],[8.35,-0.47],[9.5,-0.5],[10.94,-0.516],[11.8,-0.5],[12.37,-0.51],[12.66,-0.49],[14.68,-0.47],
  [15.83,-0.46],[16.05,null],
  [16.26,-0.516],[18.71,-0.516],[19.29,-0.435],[19.72,-0.48],[23.9,-0.5],[25.05,-0.48],[26.2,-0.48],[26.63,-0.45],[27.06,-0.49],[27.92,-0.506],
  [33.1,-0.51],[42.55,-0.51]
];

// -------------------------
// Style
// -------------------------
const FONT = '"Liberation Sans", Arial, Helvetica, sans-serif';
const POINT_COLOR = "#EE6677";
const SMOOTH_COLOR = "#AA3377";
const CI95_COLOR = "#228833";
const CI99_COLOR = "#66CCEE";
const GRID_MAJOR = "#e3e3e3";
const GRID_MINOR = "#f0f0f0";
const FRAME_COLOR = "#ababab";

Chart.defaults.font.family = FONT;

const toXY = arr => arr.map(([x, y]) => ({ x, y }));
const isMajorX = v => v % 10 === 0;
const isMajorY = v => Math.abs(v * 2 - Math.round(v * 2)) < 1e-9;

function lineSet(arr, color, width, order, extra) {
  return Object.assign({
    data: toXY(arr),
    showLine: true,
    borderColor: color,
    borderWidth: width,
    pointRadius: 0,
    pointHoverRadius: 0,
    pointHitRadius: 0,
    spanGaps: false,
    tension: 0,
    order
  }, extra || {});
}

// shaded region, frame, panel tag and title
const panelDecor = {
  id: "panelDecor",
  afterDatasetsDraw(chart, args, opts) {
    const { ctx, chartArea: a, scales: { x } } = chart;
    const x0 = x.getPixelForValue(opts.region[0]);
    const x1 = x.getPixelForValue(opts.region[1]);
    ctx.save();
    ctx.fillStyle = opts.regionColor;
    ctx.fillRect(x0, a.top, x1 - x0, a.bottom - a.top);
    ctx.restore();
  },
  afterDraw(chart, args, opts) {
    const { ctx, chartArea: a } = chart;
    ctx.save();
    ctx.strokeStyle = FRAME_COLOR;
    ctx.lineWidth = 1;
    ctx.strokeRect(a.left + 0.5, a.top + 0.5, a.right - a.left - 1, a.bottom - a.top - 1);
    ctx.fillStyle = "#000";
    ctx.textBaseline = "alphabetic";
    ctx.textAlign = "left";
    ctx.font = '52px "Open Sans"';
    ctx.fillText(opts.tag, 0, 47);
    ctx.font = "22.5px " + FONT;
    ctx.fillText(opts.title, a.left, a.top - 11);
    ctx.restore();
  }
};

function buildPanel(canvasId, p) {
  return new Chart(document.getElementById(canvasId), {
    type: "scatter",
    data: {
      datasets: [
        {
          data: toXY(p.points.concat(p.core)),
          pointRadius: 2.6,
          pointBackgroundColor: POINT_COLOR,
          pointBorderWidth: 0,
          pointHoverRadius: 0,
          order: 6
        },
        lineSet([[p.range[0], 0], [p.range[1], 0]], "#333333", 1.2, 5, { borderDash: [8, 5] }),
        lineSet(p.ci99Hi, CI99_COLOR, 2.2, 4),
        lineSet(p.ci99Lo, CI99_COLOR, 2.2, 4),
        lineSet(p.ci95Hi, CI95_COLOR, 2.2, 3),
        lineSet(p.ci95Lo, CI95_COLOR, 2.2, 3),
        lineSet(p.smooth, SMOOTH_COLOR, 3.2, 1)
      ]
    },
    options: {
      responsive: false,
      animation: false,
      devicePixelRatio: 1,
      events: [],
      layout: { padding: { top: 34, right: 6, left: 0, bottom: 0 } },
      plugins: {
        legend: { display: false },
        tooltip: { enabled: false },
        panelDecor: { tag: p.tag, title: p.title, region: p.region, regionColor: p.regionColor }
      },
      scales: {
        x: {
          type: "linear",
          min: p.range[0],
          max: p.range[1],
          afterBuildTicks: s => { s.ticks = p.xTicks.map(v => ({ value: v })); },
          afterFit: s => { s.height = 45; },
          border: { display: false },
          grid: {
            color: c => isMajorX(c.tick.value) ? GRID_MAJOR : GRID_MINOR,
            lineWidth: 1,
            tickLength: 4,
            tickColor: c => isMajorX(c.tick.value) ? FRAME_COLOR : "rgba(0,0,0,0)"
          },
          ticks: {
            autoSkip: false,
            maxRotation: 0,
            padding: 2,
            color: "#4d4d4d",
            font: { size: 13.5 },
            callback: v => isMajorX(v) ? String(v) : ""
          },
          title: {
            display: true,
            text: "Position (Mbp)",
            color: "#000",
            font: { size: 19 },
            padding: { top: 0, bottom: 4 }
          }
        },
        y: {
          type: "linear",
          min: Y_RANGE[0],
          max: Y_RANGE[1],
          afterBuildTicks: s => { s.ticks = Y_TICKS.map(v => ({ value: v })); },
          afterFit: s => { s.width = 105; },
          border: { display: false },
          grid: {
            color: c => isMajorY(c.tick.value) ? GRID_MAJOR : GRID_MINOR,
            lineWidth: 1,
            tickLength: 4,
            tickColor: c => isMajorY(c.tick.value) ? FRAME_COLOR : "rgba(0,0,0,0)"
          },
          ticks: {
            padding: 4,
            color: "#4d4d4d",
            font: { size: 13.5 },
            callback: v => isMajorY(v) ? v.toFixed(1) : ""
          },
          title: {
            display: true,
            text: "\u0394 SNP Index (R - S)",
            color: "#000",
            font: { size: 19 },
            padding: { top: 53, bottom: 0 }
          }
        }
      }
    },
    plugins: [panelDecor]
  });
}

// -------------------------
// Start
// -------------------------
buildPanel("chr12", {
  tag: "a)", title: "Chromosome 12",
  range: chr12Range, xTicks: X_TICKS_12,
  region: chr12Region, regionColor: "rgba(102,204,238,0.5)",
  points: chr12Points, core: chr12CorePoints, smooth: chr12Smooth,
  ci95Hi: chr12Ci95Hi, ci95Lo: chr12Ci95Lo, ci99Hi: chr12Ci99Hi, ci99Lo: chr12Ci99Lo
});

buildPanel("chr13", {
  tag: "b)", title: "Chromosome 13",
  range: chr13Range, xTicks: X_TICKS_13,
  region: chr13Region, regionColor: "rgba(34,136,51,0.42)",
  points: chr13Points, core: chr13CorePoints, smooth: chr13Smooth,
  ci95Hi: chr13Ci95Hi, ci95Lo: chr13Ci95Lo, ci99Hi: chr13Ci99Hi, ci99Lo: chr13Ci99Lo
});
</script>
</body>
</html>
